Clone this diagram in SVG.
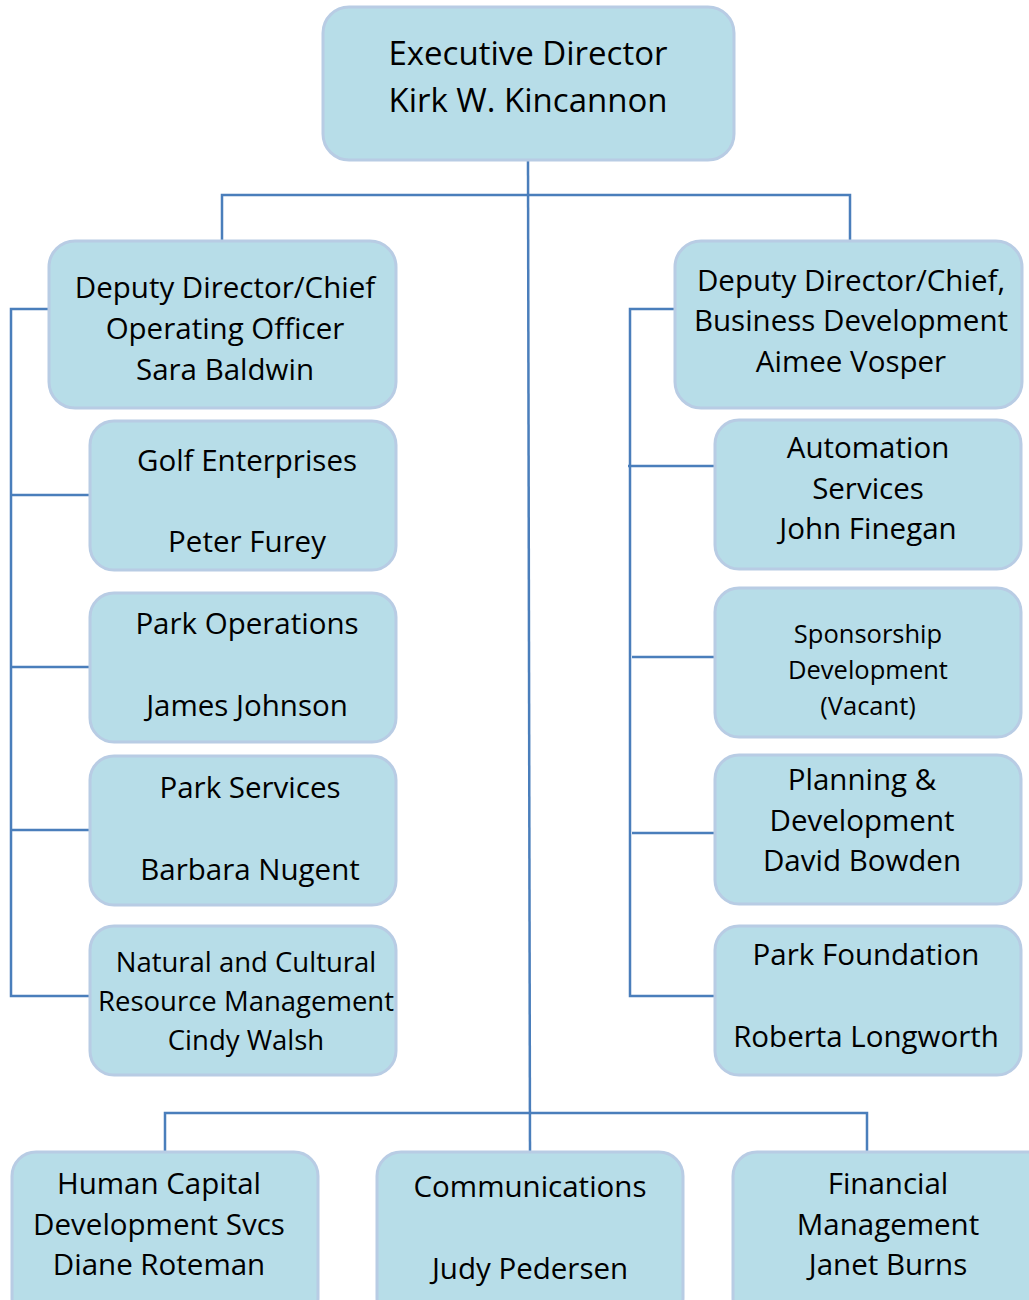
<svg xmlns="http://www.w3.org/2000/svg" width="1029" height="1300" viewBox="0 0 1029 1300">
<style>
.box{fill:#b7dde8;stroke:#b8cce4;stroke-width:3}
.t{font-family:"Open Sans","Noto Sans","Liberation Sans",sans-serif;fill:#000;text-anchor:middle;font-size:29.5px}
.big{font-size:33px}
.sm{font-size:27.5px}
.xs{font-size:25.5px}
.c{fill:none;stroke:#4a7ebb;stroke-width:2.5}
</style>
<rect width="1029" height="1300" fill="#fff"/>
<g id="connectors">
<path class="c" d="M528 160 L530 1152"/>
<path class="c" d="M222 241 V195 H850 V241"/>
<path class="c" d="M49 309 H11 V996 H90 M11 495 H90 M11 667 H90 M11 830 H90"/>
<path class="c" d="M675 309 H630 V996 H715 M628 466 H715 M632 657 H715 M632 833 H715"/>
<path class="c" d="M165 1152 V1113 H867 V1152"/>
</g>
<g id="exec"><rect class="box" x="323" y="7" width="411" height="153" rx="26"/>
<text class="t big" x="528" y="65">Executive Director</text><text class="t big" x="528" y="112">Kirk W. Kincannon</text></g>
<g id="dep-left"><rect class="box" x="49" y="241" width="347" height="167" rx="26"/>
<text class="t" x="225" y="298">Deputy Director/Chief</text><text class="t" x="225" y="339">Operating Officer</text><text class="t" x="225" y="380">Sara Baldwin</text></g>
<g id="golf"><rect class="box" x="90" y="421" width="306" height="149" rx="24"/>
<text class="t" x="247" y="471">Golf Enterprises</text><text class="t" x="247" y="552">Peter Furey</text></g>
<g id="parkops"><rect class="box" x="90" y="593" width="306" height="149" rx="24"/>
<text class="t" x="247" y="634">Park Operations</text><text class="t" x="247" y="716">James Johnson</text></g>
<g id="parksvc"><rect class="box" x="90" y="756" width="306" height="149" rx="24"/>
<text class="t" x="250" y="798">Park Services</text><text class="t" x="250" y="880">Barbara Nugent</text></g>
<g id="natural"><rect class="box" x="90" y="926" width="306" height="149" rx="24"/>
<text class="t sm" x="246" y="972">Natural and Cultural</text><text class="t sm" x="246" y="1011">Resource Management</text><text class="t sm" x="246" y="1050">Cindy Walsh</text></g>
<g id="dep-right"><rect class="box" x="675" y="241" width="347" height="167" rx="26"/>
<text class="t" x="851" y="291">Deputy Director/Chief,</text><text class="t" x="851" y="331">Business Development</text><text class="t" x="851" y="372">Aimee Vosper</text></g>
<g id="automation"><rect class="box" x="715" y="420" width="306" height="149" rx="24"/>
<text class="t" x="868" y="458">Automation</text><text class="t" x="868" y="499">Services</text><text class="t" x="868" y="539">John Finegan</text></g>
<g id="sponsor"><rect class="box" x="715" y="588" width="306" height="149" rx="24"/>
<text class="t xs" x="868" y="643">Sponsorship</text><text class="t xs" x="868" y="679">Development</text><text class="t xs" x="868" y="715">(Vacant)</text></g>
<g id="planning"><rect class="box" x="715" y="755" width="306" height="149" rx="24"/>
<text class="t" x="862" y="790">Planning &amp;</text><text class="t" x="862" y="831">Development</text><text class="t" x="862" y="871">David Bowden</text></g>
<g id="foundation"><rect class="box" x="715" y="926" width="306" height="149" rx="24"/>
<text class="t" x="866" y="965">Park Foundation</text><text class="t" x="866" y="1047">Roberta Longworth</text></g>
<g id="human"><rect class="box" x="12" y="1152" width="306" height="170" rx="24"/>
<text class="t" x="159" y="1194">Human Capital</text><text class="t" x="159" y="1235">Development Svcs</text><text class="t" x="159" y="1275">Diane Roteman</text></g>
<g id="comm"><rect class="box" x="377" y="1152" width="306" height="170" rx="24"/>
<text class="t" x="530" y="1197">Communications</text><text class="t" x="530" y="1279">Judy Pedersen</text></g>
<g id="financial"><rect class="box" x="733" y="1152" width="320" height="170" rx="24"/>
<text class="t" x="888" y="1194">Financial</text><text class="t" x="888" y="1235">Management</text><text class="t" x="888" y="1275">Janet Burns</text></g>
</svg>
